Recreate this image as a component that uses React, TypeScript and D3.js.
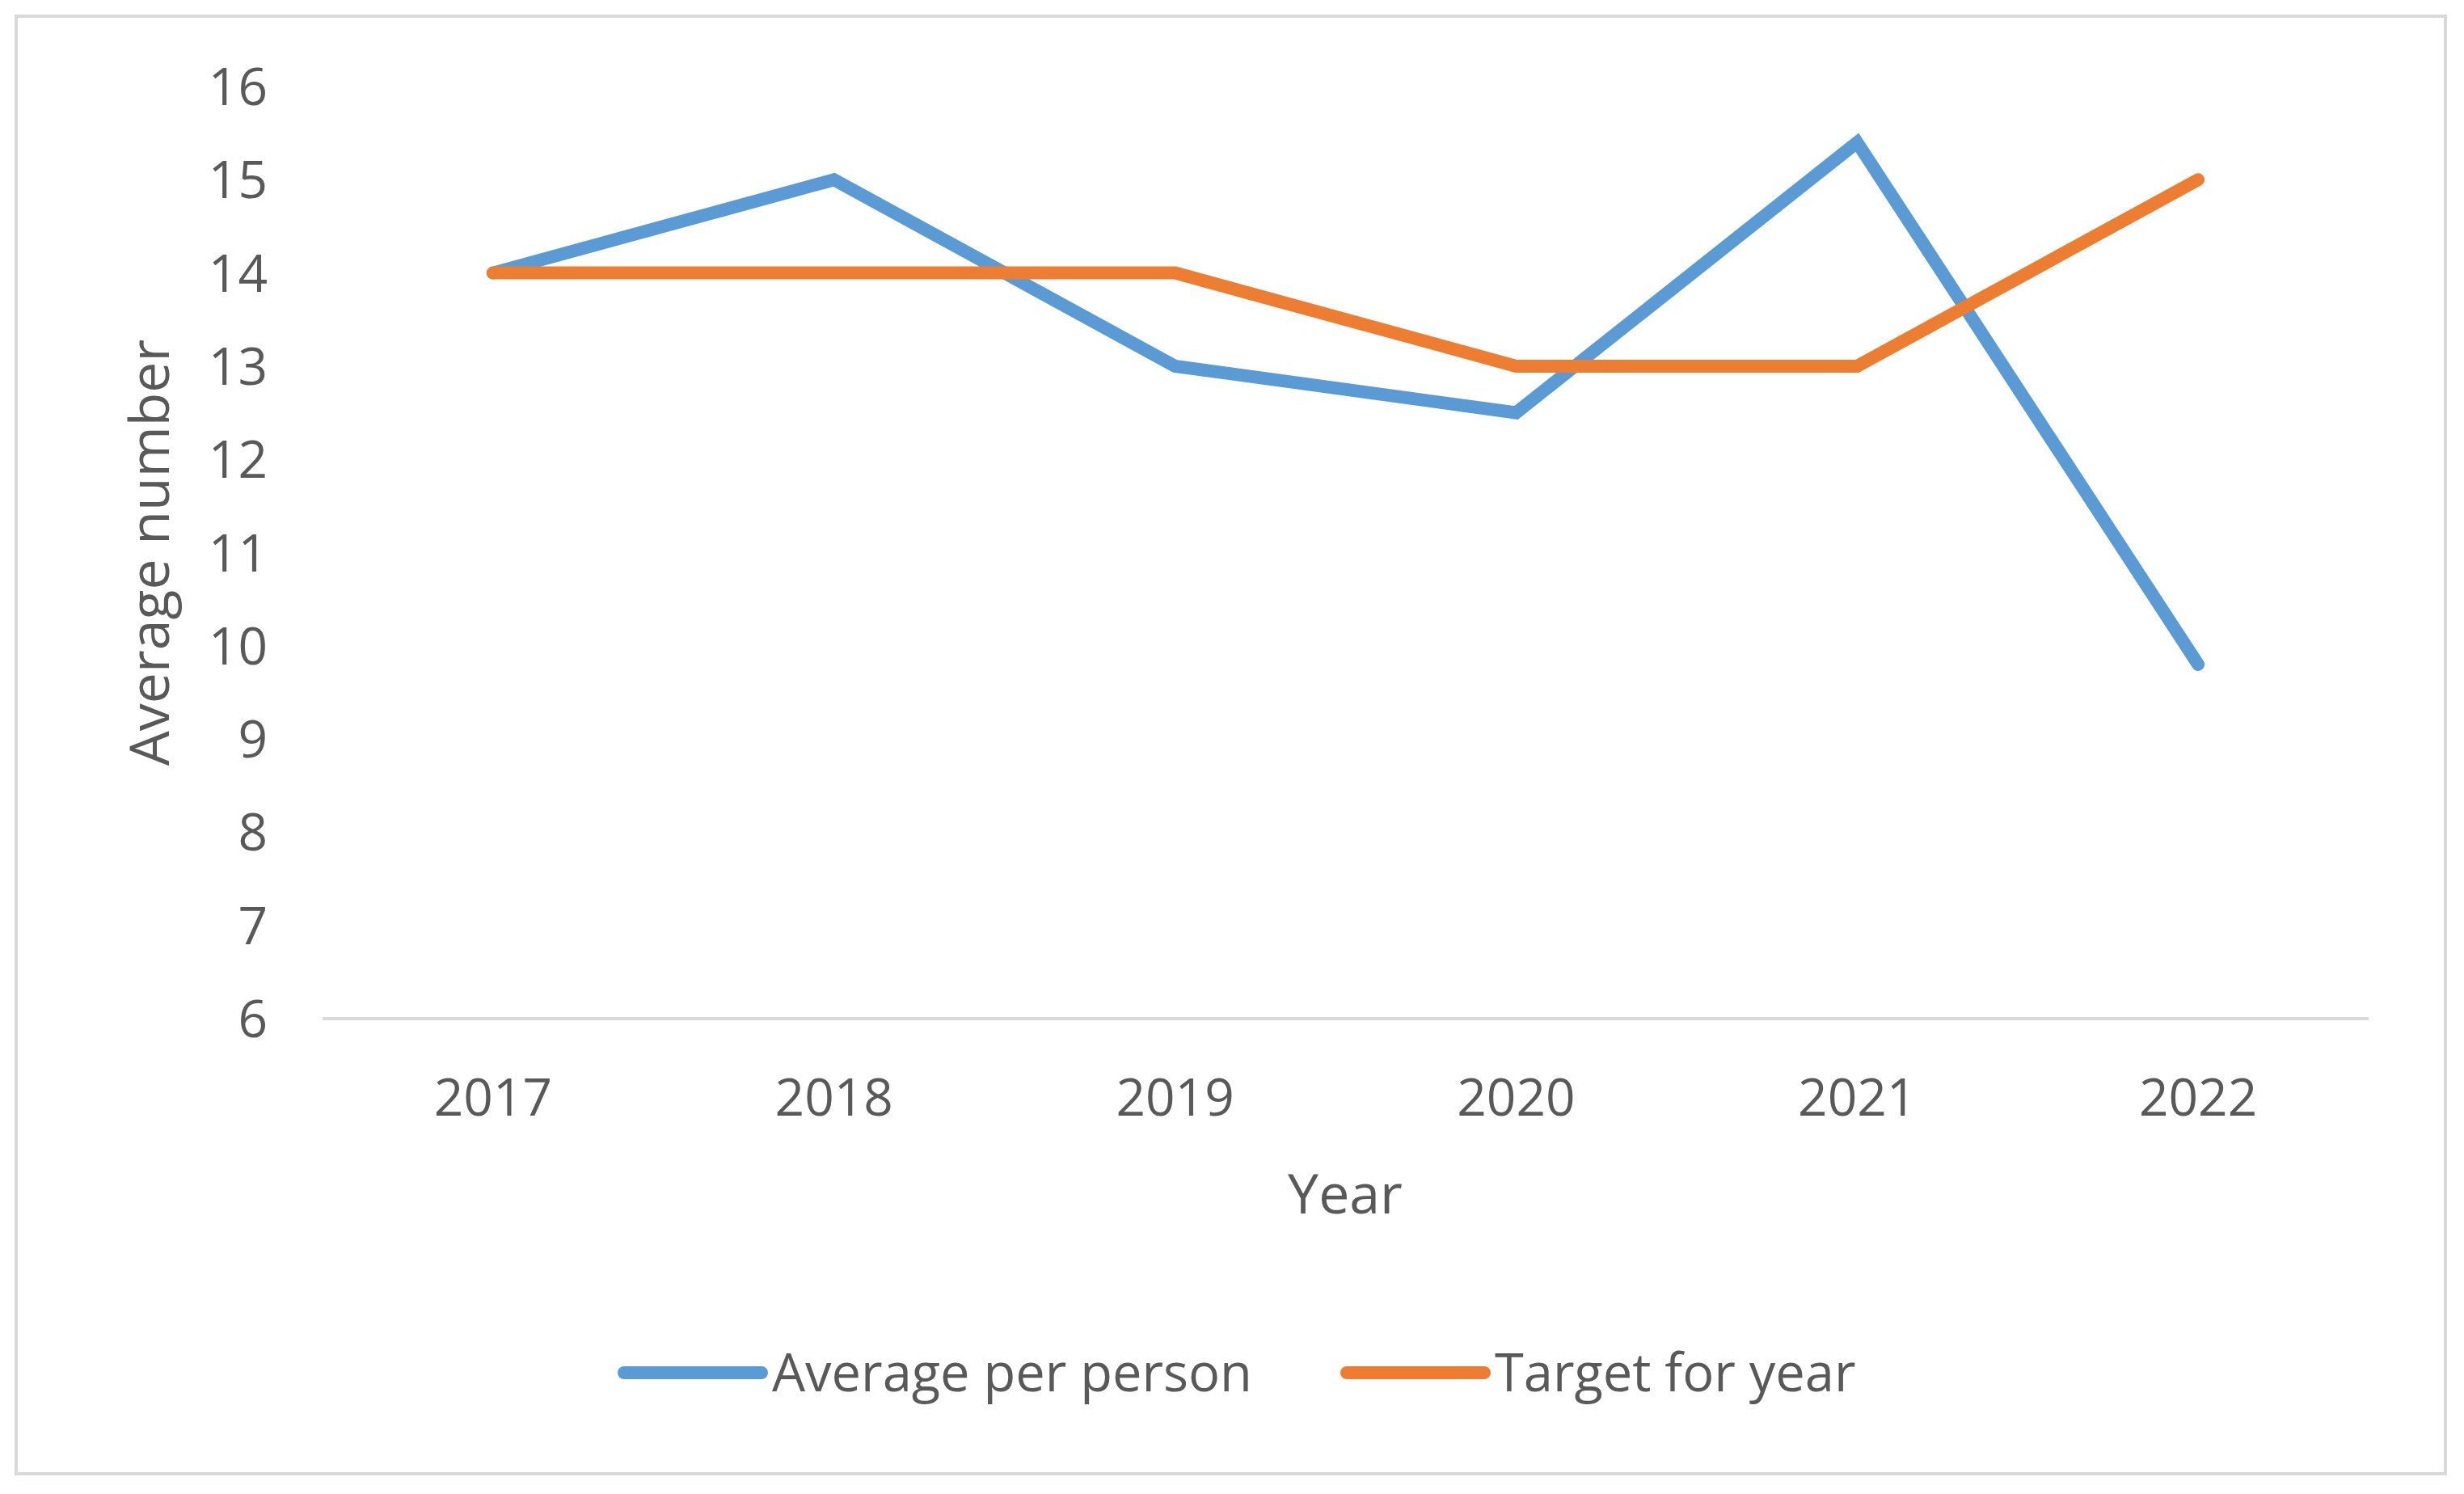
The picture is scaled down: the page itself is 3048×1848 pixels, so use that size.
import * as d3 from 'd3';

const years = ['2017', '2018', '2019', '2020', '2021', '2022'];
const averagePerPerson = [14, 15, 13, 12.5, 15.4, 9.8];
const targetForYear = [14, 14, 14, 13, 13, 15];
const yTicks = [6, 7, 8, 9, 10, 11, 12, 13, 14, 15, 16];

const W = 3048;
const H = 1848;
const FONT = '"Open Sans", "Noto Sans", sans-serif';
const TEXT = '#595959';

const series = [
  { name: 'Average per person', values: averagePerPerson, color: '#5B9BD5', legendX: 772 },
  { name: 'Target for year', values: targetForYear, color: '#ED7D31', legendX: 1666 },
];

export default function App() {
  const x = d3.scaleBand<string>().domain(years).range([399, 2930]).padding(0);
  const y = d3.scaleLinear().domain([6, 16]).range([1260, 107]);
  const cx = (yr: string) => (x(yr) ?? 0) + x.bandwidth() / 2;

  const line = d3.line<number>()
    .x((_, i) => cx(years[i]))
    .y(d => y(d));

  return (
    <svg width={W} height={H} style={{ position: 'absolute', left: 0, top: 0, display: 'block', background: '#fff' }}
      fontFamily={FONT}>
      {/* chart border */}
      <rect x={20} y={20} width={3005} height={1803} fill="#fff" stroke="#D9D9D9" strokeWidth={4} />

      {/* y tick labels */}
      {yTicks.map(t => (
        <text key={t} x={331} y={y(t)} dy="0.36em" textAnchor="end" fontSize={64} fill={TEXT}>{t}</text>
      ))}

      {/* x axis */}
      <line x1={399} x2={2930} y1={y(6)} y2={y(6)} stroke="#D9D9D9" strokeWidth={4} />
      {years.map(yr => (
        <text key={yr} x={cx(yr)} y={1357} dy="0.36em" textAnchor="middle" fontSize={64} fill={TEXT}>{yr}</text>
      ))}

      {/* axis titles */}
      <text x={1664} y={1477} dy="0.36em" textAnchor="middle" fontSize={68} fill={TEXT}>Year</text>
      <text transform={`translate(185,${(y(6) + y(16)) / 2}) rotate(-90)`} dy="0.36em" textAnchor="middle"
        fontSize={68} fill={TEXT}>Average number</text>

      {/* lines */}
      {series.map(s => (
        <path key={s.name} d={line(s.values) ?? ''} fill="none" stroke={s.color} strokeWidth={16}
          strokeLinecap="round" strokeLinejoin="miter" />
      ))}

      {/* legend */}
      {series.map(s => (
        <g key={s.name}>
          <line x1={s.legendX} x2={s.legendX + 170} y1={1698} y2={1698} stroke={s.color} strokeWidth={16}
            strokeLinecap="round" />
          <text x={s.legendX + 183} y={1698} dy="0.36em" fontSize={65} fill={TEXT}>{s.name}</text>
        </g>
      ))}
    </svg>
  );
}
